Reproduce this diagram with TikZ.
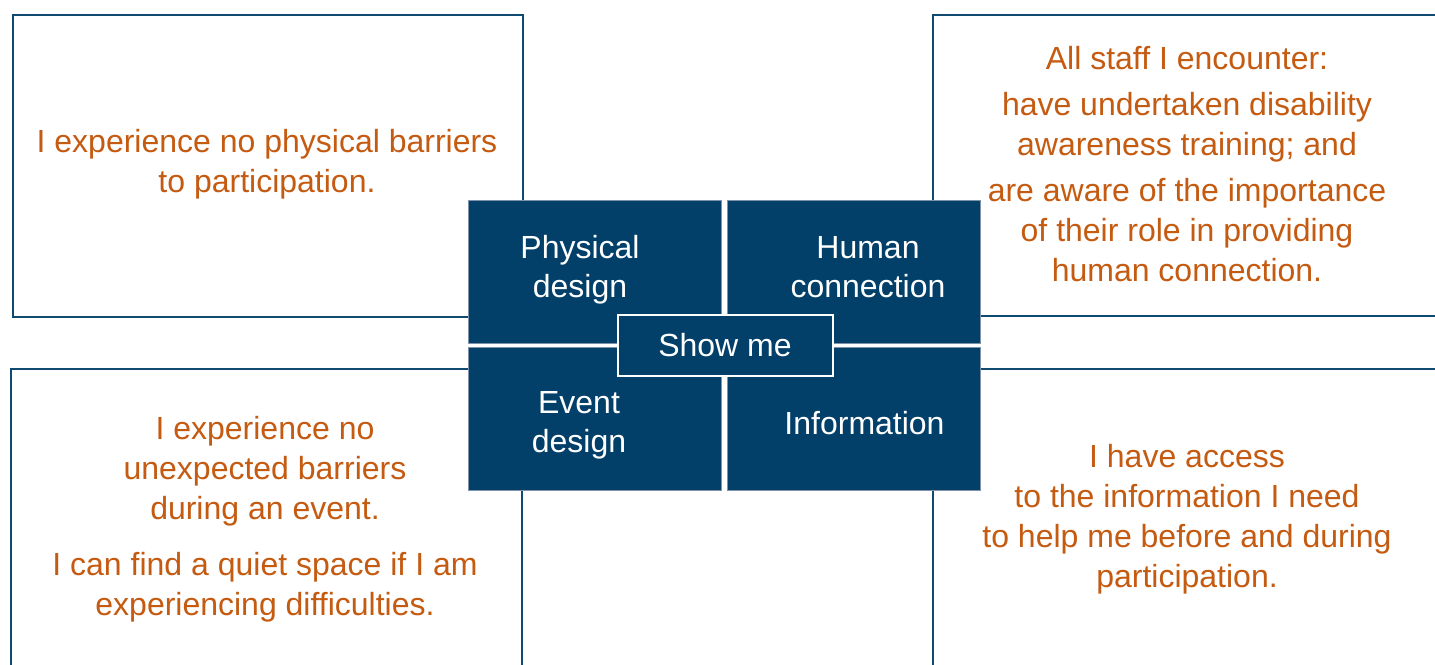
\documentclass[tikz,border=0pt]{standalone}
\usepackage{fontspec}
\setmainfont{Liberation Sans}
\definecolor{PlanNavy}{HTML}{02406A}
\definecolor{PlanEdge}{HTML}{0F4A70}
\definecolor{PlanLine}{HTML}{7F93AB}
\definecolor{PlanOrange}{HTML}{C55A11}

\begin{document}
\begin{tikzpicture}[x=0.5pt,y=-0.5pt,line join=miter,
  outcome/.style={draw=PlanEdge,line width=1pt,fill=white,inner sep=0pt,anchor=north west},
  outtext/.style={text=PlanOrange,align=center,font=\fontsize{16}{20}\selectfont},
  tile/.style={fill=PlanNavy,draw=PlanLine,line width=0.5pt,inner sep=0pt,anchor=north west,
    minimum width=126.5pt,minimum height=71.5pt},
  tiletext/.style={text=white,align=center,font=\fontsize{16}{19.5}\selectfont}]
  \clip (0,0) rectangle (1435,664);
  \fill[white] (0,0) rectangle (1435,664);

  % four outcome panels, partly running off the page
  \node[outcome,minimum width=255pt,minimum height=151pt] (physbox) at (12,14) {};
  \node[outcome,minimum width=255pt,minimum height=150.5pt] (humanbox) at (932,14) {};
  \node[outcome,minimum width=255.5pt,minimum height=151pt] (eventbox) at (10,368) {};
  \node[outcome,minimum width=255pt,minimum height=151pt] (infobox) at (932,368) {};

  \node[outtext] (physout) at (267,164) {I experience no physical barriers\\to participation.};
  \node[outtext] (humanout) at (1187,164) {All staff I encounter:\\[3pt]
    have undertaken disability\\awareness training; and\\[3pt]
    are aware of the importance\\of their role in providing\\human connection.};
  \node[outtext] (eventout) at (265,519) {I experience no\\unexpected barriers\\during an event.\\[8pt]
    I can find a quiet space if I am\\experiencing difficulties.};
  \node[outtext] (infoout) at (1187,519) {I have access\\to the information I need\\to help me before and during\\participation.};

  % centre grid
  \node[tile] (physical) at (468,200) {};
  \node[tile] (human) at (727,200) {};
  \node[tile] (event) at (468,347) {};
  \node[tile] (information) at (727,347) {};

  \node[tiletext] (physlabel) at (580,270) {Physical\\design};
  \node[tiletext] (humanlabel) at (868,267) {Human\\connection};
  \node[tiletext] (eventlabel) at (579,425) {Event\\design};
  \node[tiletext] (infolabel) at (864.5,423) {Information};

  \node[fill=PlanNavy,draw=white,line width=1pt,inner sep=0pt,minimum width=107.5pt,
    minimum height=30.5pt,text=white,font=\fontsize{16}{19.5}\selectfont] (showme) at (725,345) {Show me};
\end{tikzpicture}
\end{document}
